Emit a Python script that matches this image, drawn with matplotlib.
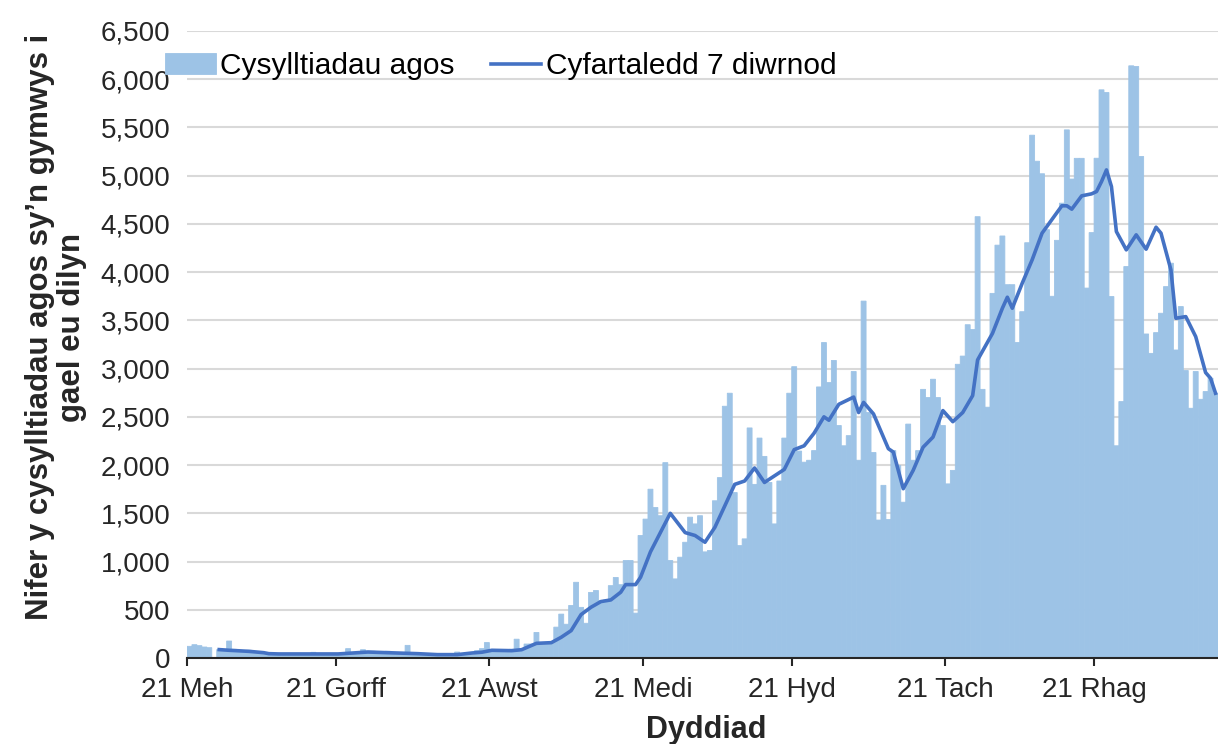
import matplotlib.pyplot as plt
import numpy as np
from matplotlib.ticker import FuncFormatter

plt.rcParams['font.family'] = ['Liberation Sans', 'DejaVu Sans']

START_DATE = '2020-06-21'

# daily close contacts eligible for follow-up, from 21 June
contacts = [
    121, 138, 128, 114, 107, 0, 87, 80, 176, 90,
    80, 73, 80, 66, 62, 55, 50, 48, 47, 45,
    45, 46, 44, 45, 45, 59, 45, 44, 43, 45,
    40, 52, 97, 52, 55, 86, 70, 70, 62, 62,
    70, 52, 50, 52, 131, 52, 50, 48, 42, 42,
    40, 35, 35, 35, 62, 35, 30, 35, 76, 97,
    160, 80, 85, 80, 85, 90, 195, 95, 145, 145,
    265, 160, 160, 165, 320, 455, 350, 545, 785, 525,
    360, 680, 700, 595, 600, 750, 835, 760, 1010, 1010,
    465, 1270, 1440, 1750, 1560, 1475, 2025, 1010, 820, 1045,
    1200, 1460, 1390, 1475, 1100, 1115, 1630, 1870, 2610, 2745,
    1715, 1165, 1235, 2385, 1800, 2280, 2090, 1820, 1390, 1835,
    2280, 2745, 3020, 2145, 2030, 2050, 2150, 2810, 3270, 2855,
    3085, 2410, 2200, 2305, 2970, 2050, 3700, 2545, 2130, 1430,
    1790, 1435, 2150, 1995, 1615, 2425, 2050, 2150, 2785, 2700,
    2890, 2700, 2410, 1805, 1945, 3045, 3130, 3455, 3405, 4575,
    2785, 2600, 3780, 4280, 4375, 3870, 3870, 3270, 3590, 4305,
    5420, 5150, 5020, 4440, 3750, 4330, 4715, 5475, 4965, 5180,
    5180, 3835, 4410, 5181, 5890, 5862, 3747, 2200, 2658, 4058,
    6139, 6132, 5199, 3359, 3158, 3373, 3574, 3850, 4093, 3193,
    3643, 2980, 2589, 2970, 2682, 2762, 2900, 2745,
]

# 7 day average (day number from 21 June)
avg_days = [
    6, 8, 12, 15, 16, 18, 24, 30, 36, 40, 46, 50, 54, 57, 59, 61, 65, 67,
    70, 73, 75, 77, 79, 81, 83, 85, 87, 88, 90, 91, 93, 95, 97, 100, 102,
    104, 106, 110, 112, 114, 116, 120, 122, 124, 126, 128, 129, 131, 134,
    135, 136, 138, 141, 142, 144, 146, 148, 150, 152, 154, 156, 158, 159,
    162, 164, 165, 166, 168, 170, 172, 176, 177, 178, 180, 182, 183, 184,
    185, 186, 187, 189, 191, 193, 195, 196, 198, 199, 201, 203, 205, 206, 207,
]
avg_values = [
    87, 80, 69, 55, 45, 42, 42, 42, 62, 55, 45, 35, 35, 52, 60, 80, 76, 86,
    152, 159, 215, 284, 450, 526, 585, 602, 682, 761, 761, 837, 1100, 1300, 1500, 1300, 1270,
    1200, 1355, 1800, 1835, 1970, 1820, 1955, 2160, 2200, 2330, 2500, 2465, 2630, 2705,
    2545, 2650, 2530, 2170, 2135, 1755, 1945, 2185, 2290, 2565, 2450, 2545, 2720, 3090,
    3365, 3626, 3740, 3626, 3885, 4127, 4404, 4688, 4688, 4653, 4791, 4812, 4836, 4939,
    5060, 4888, 4421, 4231, 4387, 4238, 4466, 4404, 4024, 3522, 3539, 3332, 2959, 2900, 2745,
]

tick_dates = ['2020-06-21', '2020-07-21', '2020-08-21', '2020-09-21',
              '2020-10-21', '2020-11-21', '2020-12-21']
tick_labels = ['21 Meh', '21 Gorff', '21 Awst', '21 Medi', '21 Hyd', '21 Tach', '21 Rhag']

BAR_COLOUR = '#9DC3E6'
LINE_COLOUR = '#4472C4'
GRID_COLOUR = '#D9D9D9'
TEXT_COLOUR = '#262626'


def plot_contacts(file_name):
    fig = plt.figure(figsize=(12.18, 7.44), dpi=100)
    ax = fig.add_axes([187 / 1218, 86 / 744, 1031 / 1218, 627 / 744])

    start = np.datetime64(START_DATE)
    dates = start + np.arange(len(contacts))
    bars = ax.bar(dates, contacts, width=1, align='edge', color=BAR_COLOUR,
                  edgecolor=BAR_COLOUR, linewidth=0.6, snap=False,
                  label='Cysylltiadau agos')

    avg_x = start + np.array(avg_days) + np.timedelta64(12, 'h')
    line, = ax.plot(avg_x, avg_values, color=LINE_COLOUR, linewidth=2.6,
                    label='Cyfartaledd 7 diwrnod')

    ax.set_xlim(start, start + np.timedelta64(len(contacts), 'D'))
    ax.set_ylim(0, 6500)
    ax.set_yticks(np.arange(0, 6501, 500))
    ax.yaxis.set_major_formatter(FuncFormatter(lambda v, _: f'{v:,.0f}'))
    ax.set_xticks([np.datetime64(d) for d in tick_dates])
    ax.set_xticklabels(tick_labels)

    ax.set_axisbelow(True)
    ax.grid(axis='y', color=GRID_COLOUR, linewidth=1.5)
    for side in ['top', 'right', 'left']:
        ax.spines[side].set_visible(False)
    ax.spines['bottom'].set_color(TEXT_COLOUR)
    ax.spines['bottom'].set_linewidth(1.5)
    ax.tick_params(axis='y', length=0, pad=12, labelsize=20, colors=TEXT_COLOUR)
    ax.tick_params(axis='x', length=6, width=1.5, pad=8, labelsize=20,
                   colors=TEXT_COLOUR)

    fig.text(56 / 1218, 1 - 327 / 744,
             'Nifer y cysylltiadau agos sy\u2019n gymwys i\ngael eu dilyn',
             rotation=90, ha='center', va='center', multialignment='center',
             fontsize=22.5, fontweight='bold', linespacing=1.05, color=TEXT_COLOUR)
    fig.text(706 / 1218, 1 - 730 / 744, 'Dyddiad', ha='center', va='center',
             fontsize=22, fontweight='bold', color=TEXT_COLOUR)

    ax.legend([bars, line], ['Cysylltiadau agos', 'Cyfartaledd 7 diwrnod'],
              loc='center left', bbox_to_anchor=(165 / 1218, 1 - 66 / 744),
              bbox_transform=fig.transFigure, ncol=2, frameon=False,
              fontsize=21.5, handlelength=1.7, handletextpad=0.15,
              columnspacing=1.2, borderpad=0, borderaxespad=0)

    fig.savefig(file_name)


plot_contacts('out.png')
